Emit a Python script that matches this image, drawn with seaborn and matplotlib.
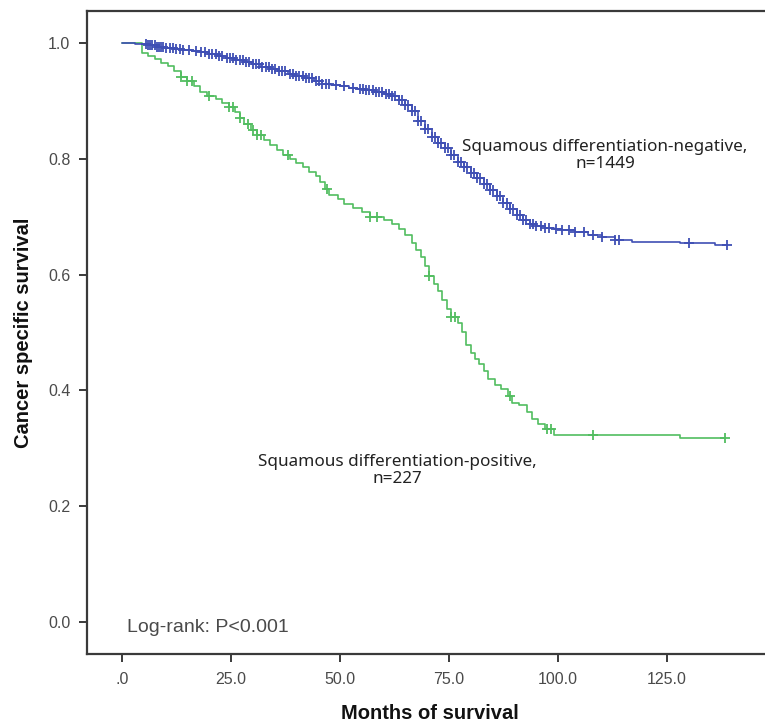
import numpy as np
import pandas as pd
import matplotlib
matplotlib.use("Agg")
import matplotlib.pyplot as plt
import seaborn as sns
from matplotlib import font_manager

# ---------------- data ----------------
neg_label = "Squamous differentiation-negative,\nn=1449"
pos_label = "Squamous differentiation-positive,\nn=227"

# Kaplan-Meier step points (time in months, survival)
neg_time = [0, 3, 6, 8, 10, 12, 14, 16, 18, 20, 22, 24, 26, 28, 30, 32, 34, 36, 38, 40,
            42, 44, 46, 48, 50, 52, 54, 56, 58, 60, 62, 63.5, 65, 66.5, 68, 69.5, 71, 72.5,
            74, 75.5, 77, 78.5, 80, 81.5, 83, 84.5, 86, 87.5, 89, 90.5, 92, 93.5, 95, 97,
            99, 101, 104, 107, 110, 113, 117, 128, 136, 138.7]
neg_surv = [1.0, 0.998, 0.996, 0.993, 0.991, 0.990, 0.988, 0.986, 0.984, 0.981, 0.977,
            0.974, 0.971, 0.967, 0.963, 0.959, 0.955, 0.951, 0.947, 0.943, 0.939, 0.935,
            0.930, 0.927, 0.925, 0.922, 0.920, 0.918, 0.915, 0.912, 0.908, 0.902, 0.893,
            0.882, 0.866, 0.852, 0.838, 0.828, 0.818, 0.806, 0.794, 0.785, 0.776, 0.767,
            0.757, 0.746, 0.735, 0.724, 0.713, 0.703, 0.694, 0.687, 0.684, 0.681, 0.679,
            0.677, 0.673, 0.669, 0.665, 0.660, 0.657, 0.654, 0.651, 0.651]

pos_time = [0, 4.5, 6, 7.5, 9, 10.5, 12, 13.5, 15, 16.5, 18, 19.5, 21.5, 23, 24.5, 26, 27,
            28, 29.5, 31, 32.5, 34, 35.5, 37, 38.5, 40, 41.5, 43, 44.5, 45.5, 46.5, 47.5,
            49.5, 51, 53, 55, 57, 60, 62, 63.5, 65, 66.5, 67.5, 68.5, 69.5, 70.5, 71.5,
            72.5, 73.5, 74.5, 75.5, 77, 78, 79, 80, 81, 82, 83, 84, 85.5, 87, 88.5, 89.5,
            91, 93, 94, 95.5, 97, 99, 128, 138.3]
pos_surv = [1.0, 0.982, 0.978, 0.973, 0.965, 0.960, 0.951, 0.942, 0.934, 0.925, 0.916,
            0.908, 0.903, 0.897, 0.889, 0.880, 0.870, 0.860, 0.850, 0.841, 0.833, 0.824,
            0.815, 0.806, 0.800, 0.793, 0.785, 0.778, 0.770, 0.760, 0.748, 0.738, 0.730,
            0.722, 0.715, 0.708, 0.700, 0.694, 0.687, 0.678, 0.668, 0.655, 0.643, 0.630,
            0.614, 0.598, 0.583, 0.572, 0.556, 0.540, 0.526, 0.516, 0.500, 0.478, 0.465,
            0.455, 0.445, 0.433, 0.420, 0.410, 0.402, 0.390, 0.378, 0.375, 0.363, 0.350,
            0.342, 0.333, 0.323, 0.317, 0.317]

# censoring times (months)
neg_censor = [5.5, 6.0, 6.5, 7, 7.5, 8, 8.5, 9, 9.5, 10.2, 11, 11.7, 12.5, 13.3, 14,
              15.5, 17, 18.2, 19, 20, 20.7, 21.5, 22.3, 23, 24, 24.7, 25.5, 26.2, 27,
              27.7, 28.5, 29.2, 30, 30.7, 31.5, 32.2, 33, 33.7, 34.5, 35.2, 36, 36.7,
              37.5, 38.5, 39.2, 40, 40.7, 41.5, 42.2, 43, 43.7, 44.5, 45.2, 46, 46.7,
              47.5, 49, 51, 53, 54.5, 55.3, 56, 56.7, 57.5, 58.2, 59, 59.7, 60.5, 61.2,
              62, 62.7, 63.5, 64.2, 65, 65.7, 66.5, 67.2, 68, 68.7, 69.5, 70.2, 71,
              71.7, 72.5, 73.2, 74, 74.7, 75.5, 76.2, 77, 77.7, 78.5, 79.2, 80, 80.7,
              81.5, 82.2, 83, 83.7, 84.5, 85.2, 86, 86.7, 87.5, 88.2, 89, 89.7, 90.5,
              91.2, 92, 92.7, 93.5, 94.2, 95, 96, 97, 98, 99.5, 101, 102.5, 104, 106,
              108, 110, 113, 114, 130, 138.7]
pos_censor = [13.5, 15, 16, 20, 24.5, 25.5, 27, 29, 30, 31, 32, 38, 47, 57, 58.5, 70.5,
              75.5, 76.5, 89, 97.5, 98.5, 108, 138.3]

xticks = [0, 25, 50, 75, 100, 125]
xtick_labels = [".0", "25.0", "50.0", "75.0", "100.0", "125.0"]
yticks = [0.0, 0.2, 0.4, 0.6, 0.8, 1.0]
ytick_labels = ["0.0", "0.2", "0.4", "0.6", "0.8", "1.0"]

# ---------------- style ----------------
sns.set_theme(style="white")
names = {f.name for f in font_manager.fontManager.ttflist}
tick_font = "Liberation Sans" if "Liberation Sans" in names else "DejaVu Sans"
note_font = "Noto Sans" if "Noto Sans" in names else "DejaVu Sans"
plt.rcParams["font.family"] = [tick_font, "DejaVu Sans"]

blue = "#3f4fb4"
green = "#52bd60"
spine_c = "#3a3a3a"

fig = plt.figure(figsize=(7.65, 7.27), dpi=100)
W, H = 765, 727
left_px, right_px, top_px, bot_px = 87, 772, 11, 654
ax = fig.add_axes([left_px / W, 1 - bot_px / H, (right_px - left_px) / W, (bot_px - top_px) / H])


def km_df(t, s, group):
    return pd.DataFrame({"time": t, "surv": s, "group": group})


def censor_df(ct, t, s, group):
    t = np.asarray(t)
    s = np.asarray(s)
    idx = np.searchsorted(t, ct, side="right") - 1
    return pd.DataFrame({"time": ct, "surv": s[idx], "group": group})


curves = pd.concat([km_df(neg_time, neg_surv, "neg"), km_df(pos_time, pos_surv, "pos")])
cens = pd.concat([censor_df(neg_censor, neg_time, neg_surv, "neg"),
                  censor_df(pos_censor, pos_time, pos_surv, "pos")])
pal = {"neg": blue, "pos": green}

for g in ["pos", "neg"]:
    sns.lineplot(data=curves[curves.group == g], x="time", y="surv", color=pal[g],
                 drawstyle="steps-post", linewidth=1.2, estimator=None, sort=False,
                 ax=ax, legend=False)
    sns.scatterplot(data=cens[cens.group == g], x="time", y="surv", color=pal[g],
                    marker="+", s=55, linewidth=1.3, ax=ax, legend=False, zorder=3)

ax.set_xlim(-8.0, (right_px - 122) / 4.36)
ax.set_ylim(-0.0553, 1.0553)

ax.set_xticks(xticks)
ax.set_xticklabels(xtick_labels)
ax.set_yticks(yticks)
ax.set_yticklabels(ytick_labels)
ax.tick_params(axis="both", which="major", direction="out", length=6, width=1.4,
               color=spine_c, labelsize=11.5, labelcolor="#4a4a4a", bottom=True, left=True)
ax.tick_params(axis="x", pad=7)
ax.tick_params(axis="y", pad=6)

for side in ["left", "bottom", "top"]:
    ax.spines[side].set_color(spine_c)
    ax.spines[side].set_linewidth(1.6)
    ax.spines[side].set_visible(True)
ax.spines["right"].set_visible(False)

ax.set_xlabel("Months of survival", fontsize=14.5, fontweight="bold", color="#111111",
              labelpad=12)
ax.set_ylabel("Cancer specific survival", fontsize=14.5, fontweight="bold", color="#111111",
              labelpad=11)

ax.text(110.8, 0.806, neg_label, ha="center", va="center", fontsize=12.3,
        family=[note_font, "DejaVu Sans"], color="#222222", linespacing=1.05,
        multialignment="center")
ax.text(63.1, 0.262, pos_label, ha="center", va="center", fontsize=12.3,
        family=[note_font, "DejaVu Sans"], color="#222222", linespacing=1.05,
        multialignment="center")
ax.text(1.2, -0.01, "Log-rank: P<0.001", ha="left", va="center", fontsize=14,
        color="#4a4a4a")

fig.savefig("out.png", dpi=100)
